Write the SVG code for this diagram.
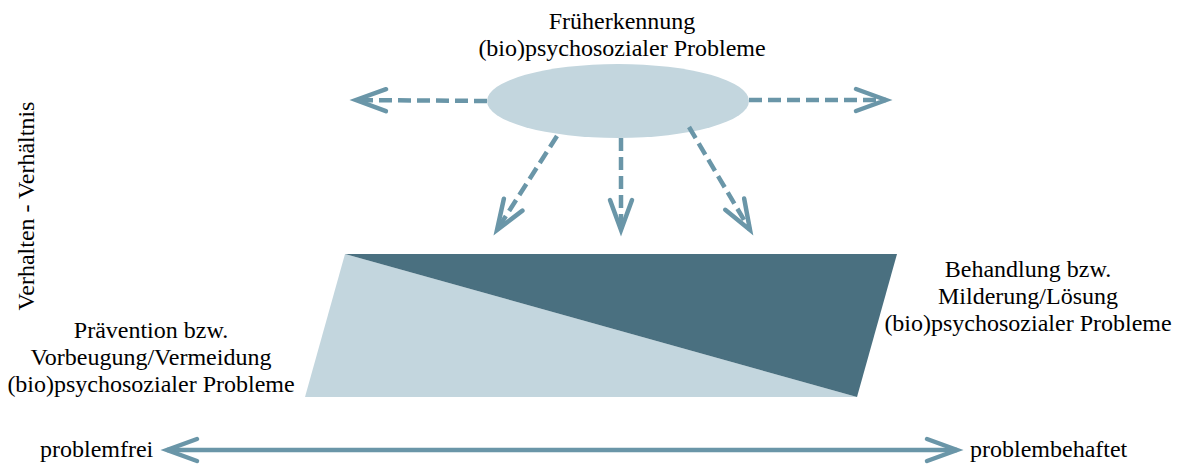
<svg xmlns="http://www.w3.org/2000/svg" width="1179" height="464" viewBox="0 0 1179 464">
  <style>
    .lbl { font-family: "Liberation Serif", "Times New Roman", serif; font-size: 24px; fill: #000; }
    .mid { text-anchor: middle; }
    .dash { fill: none; stroke: #6a96a8; stroke-width: 4.5; stroke-dasharray: 13 6; }
    .solid { fill: none; stroke: #6a96a8; stroke-width: 4.5; }
  </style>
  <defs>
    <!-- open chevron head, drawn in user units -->
    <marker id="chev" markerUnits="userSpaceOnUse" viewBox="-34 -14 38 28" refX="0" refY="0" markerWidth="38" markerHeight="28" orient="auto-start-reverse" overflow="visible">
      <path d="M -30 -11 L 0 0 L -30 11" fill="none" stroke="#6a96a8" stroke-width="4.5" stroke-linecap="round" stroke-linejoin="miter"/>
    </marker>
  </defs>

  <!-- early detection node -->
  <g id="early-detection">
    <ellipse cx="618" cy="101" rx="131" ry="37" fill="#c3d6de"/>
    <text class="lbl mid" x="622" y="29">Früherkennung</text>
    <text class="lbl mid" x="622" y="56">(bio)psychosozialer Probleme</text>
  </g>

  <!-- prevention / treatment band -->
  <g id="band">
    <polygon points="345,254 857,397 305,397" fill="#c3d6de"/>
    <polygon points="345,254 897,254 857,397" fill="#4a7080"/>
  </g>

  <g id="prevention">
    <text class="lbl mid" x="151" y="338">Prävention bzw.</text>
    <text class="lbl mid" x="151" y="365">Vorbeugung/Vermeidung</text>
    <text class="lbl mid" x="151" y="392">(bio)psychosozialer Probleme</text>
  </g>

  <g id="treatment">
    <text class="lbl mid" x="1028" y="277">Behandlung bzw.</text>
    <text class="lbl mid" x="1028" y="304">Milderung/Lösung</text>
    <text class="lbl mid" x="1028" y="331">(bio)psychosozialer Probleme</text>
  </g>

  <g id="axis-labels">
    <text class="lbl" x="40" y="457">problemfrei</text>
    <text class="lbl" x="970" y="457">problembehaftet</text>
    <text class="lbl mid" transform="translate(34,206) rotate(-90)">Verhalten - Verhältnis</text>
  </g>

  <!-- connectors -->
  <g id="connectors">
    <path class="dash" d="M 487 101 L 356 100" marker-end="url(#chev)"/>
    <path class="dash" d="M 749 100 L 886 100" marker-end="url(#chev)"/>
    <path class="dash" d="M 557 136 L 497 230" marker-end="url(#chev)"/>
    <path class="dash" d="M 621 138 L 621 230" marker-end="url(#chev)"/>
    <path class="dash" d="M 689 127 L 750 230" marker-end="url(#chev)"/>
    <path class="solid" d="M 167 450 L 957 450" marker-start="url(#chev)" marker-end="url(#chev)"/>
  </g>
</svg>
